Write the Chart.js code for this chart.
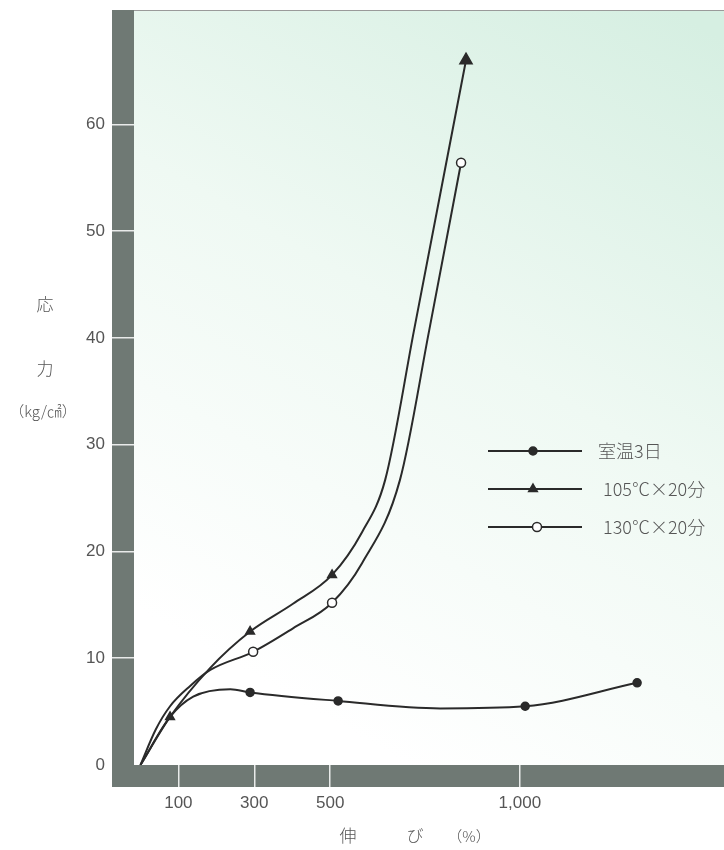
<!DOCTYPE html>
<html>
<head>
<meta charset="utf-8">
<script src="https://cdn.jsdelivr.net/npm/chart.js@4.4.1/dist/chart.umd.min.js"></script>
<style>
  body { margin: 0; background: #fff; }
  canvas { display: block; }
</style>
</head>
<body>
<canvas id="chart" width="724" height="850"></canvas>
<script>
// data (elongation %, stress kg/cm2)
const seriesNames = ['室温3日', '105℃×20分', '130℃×20分'];

const roomX = [0, 78, 139, 237, 289, 521, 790, 1014, 1309];
const roomY = [0, 4.5, 6.4, 7.1, 6.8, 6.0, 5.3, 5.5, 7.7];
const roomMark = [0, 0, 0, 0, 1, 1, 0, 1, 1];

const t105X = [0, 78, 184, 289, 402, 505, 584, 645, 721, 858];
const t105Y = [0, 4.5, 9.1, 12.5, 15.1, 17.8, 21.8, 26.7, 40.7, 66.0];
const t105Mark = [0, 1, 0, 1, 0, 1, 0, 0, 0, 2];

const t130X = [0, 40, 78, 131, 184, 297, 402, 505, 584, 684, 761, 845];
const t130Y = [0, 3.3, 5.5, 7.4, 8.9, 10.6, 12.8, 15.2, 18.9, 26.7, 40.7, 56.4];
const t130Mark = [0, 0, 0, 0, 0, 1, 0, 1, 0, 0, 0, 1];

const xTicks = [100, 300, 500, 1000];
const xTickLabels = ['100', '300', '500', '1,000'];
const yTicks = [0, 10, 20, 30, 40, 50, 60];

const ink = '#2a2a2a';
const barColor = '#6f7974';
const textColor = '#555';
const cjk = '"Noto Sans CJK JP"';

function pts(xs, ys) {
  return xs.map((x, i) => ({ x: x, y: ys[i] }));
}

const styles = [
  { pointStyle: 'circle', fill: ink, r: 4 },
  { pointStyle: 'triangle', fill: ink, r: 5 },
  { pointStyle: 'circle', fill: '#fff', r: 4.5 }
];

function makeSet(i, xs, ys, marks) {
  const s = styles[i];
  return {
    label: seriesNames[i],
    data: pts(xs, ys),
    borderColor: ink,
    borderWidth: 2,
    cubicInterpolationMode: 'monotone',
    pointStyle: s.pointStyle,
    pointRadius: marks.map(m => m === 2 ? 7 : (m ? s.r : 0)),
    pointBackgroundColor: s.fill,
    pointBorderColor: ink,
    pointBorderWidth: 1.5,
    fill: false
  };
}

const framePlugin = {
  id: 'frame',
  beforeDraw(chart) {
    const ctx = chart.ctx;
    const a = chart.chartArea;
    ctx.save();
    const g = ctx.createLinearGradient(330, 720, 724, 40);
    g.addColorStop(0, '#ffffff');
    g.addColorStop(0.5, '#eff9f3');
    g.addColorStop(1, '#d6efe2');
    ctx.fillStyle = g;
    ctx.fillRect(a.left, a.top, a.right - a.left, a.bottom - a.top);
    // thin top rule
    ctx.strokeStyle = '#9a9a9a';
    ctx.lineWidth = 1;
    ctx.beginPath();
    ctx.moveTo(a.left, a.top + 0.5);
    ctx.lineTo(a.right, a.top + 0.5);
    ctx.stroke();
    // thick grey axis bars
    ctx.fillStyle = barColor;
    ctx.fillRect(a.left - 22, a.top, 22, a.bottom - a.top + 22);
    ctx.fillRect(a.left - 22, a.bottom, a.right - a.left + 22, 22);
    ctx.restore();
  },
  afterDraw(chart) {
    const ctx = chart.ctx;
    ctx.save();
    ctx.fillStyle = textColor;
    ctx.textAlign = 'center';
    ctx.textBaseline = 'middle';
    ctx.font = '300 17px ' + cjk;
    // y title
    ctx.fillText('応', 45, 305);
    ctx.fillText('力', 45, 369);
    ctx.font = '300 15px ' + cjk;
    ctx.fillText('（kg/㎠）', 43, 411);
    // x title
    ctx.font = '300 17px ' + cjk;
    ctx.fillText('伸', 348, 836);
    ctx.fillText('び', 415, 836);
    ctx.font = '300 15px ' + cjk;
    ctx.fillText('（%）', 469, 836);

    // legend
    chart.data.datasets.forEach((ds, i) => {
      const y = 451 + 38 * i;
      ctx.strokeStyle = ink;
      ctx.lineWidth = 2;
      ctx.beginPath();
      ctx.moveTo(488, y);
      ctx.lineTo(582, y);
      ctx.stroke();
      const s = styles[i];
      ctx.fillStyle = s.fill;
      ctx.strokeStyle = ink;
      ctx.lineWidth = 1.5;
      Chart.helpers.drawPoint(ctx, { pointStyle: s.pointStyle, radius: s.r, rotation: 0, borderWidth: 1.5 }, i === 2 ? 537 : 533, y);
      ctx.fillStyle = textColor;
      ctx.textAlign = 'left';
      ctx.font = '300 18px ' + cjk;
      ctx.fillText(ds.label, i === 0 ? 598 : 603, y);
    });
    ctx.restore();
  }
};

const chart = new Chart(document.getElementById('chart').getContext('2d'), {
  type: 'line',
  data: {
    datasets: [
      makeSet(0, roomX, roomY, roomMark),
      makeSet(1, t105X, t105Y, t105Mark),
      makeSet(2, t130X, t130Y, t130Mark)
    ]
  },
  options: {
    responsive: false,
    animation: false,
    layout: { autoPadding: false, padding: { top: 10, right: 0, left: 0, bottom: 0 } },
    plugins: {
      legend: { display: false },
      tooltip: { enabled: false }
    },
    scales: {
      x: {
        type: 'linear',
        min: -17,
        max: 1538,
        afterBuildTicks: s => { s.ticks = xTicks.map(v => ({ value: v })); },
        afterFit: s => {
          s.height = 85;
          s.paddingLeft = 0;
          s.paddingRight = 0;
        },
        border: { display: false },
        grid: {
          drawOnChartArea: false,
          drawTicks: true,
          tickLength: 22,
          color: 'rgba(255,255,255,0.85)',
          lineWidth: 1.5
        },
        ticks: {
          padding: 6,
          maxRotation: 0,
          color: textColor,
          font: { family: 'Liberation Sans', size: 17 },
          callback: v => xTickLabels[xTicks.indexOf(v)]
        }
      },
      y: {
        type: 'linear',
        min: 0,
        max: 70.7,
        afterBuildTicks: s => { s.ticks = yTicks.map(v => ({ value: v })); },
        afterFit: s => {
          s.width = 134;
          s.paddingTop = 0;
          s.paddingBottom = 0;
        },
        border: { display: false },
        grid: {
          drawOnChartArea: false,
          drawTicks: true,
          tickLength: 22,
          color: c => c.tick && c.tick.value === 0 ? 'rgba(0,0,0,0)' : 'rgba(255,255,255,0.85)',
          lineWidth: 1.5
        },
        ticks: {
          padding: 7,
          color: textColor,
          font: { family: 'Liberation Sans', size: 17 },
          callback: v => String(v)
        }
      }
    }
  },
  plugins: [framePlugin]
});
</script>
</body>
</html>
